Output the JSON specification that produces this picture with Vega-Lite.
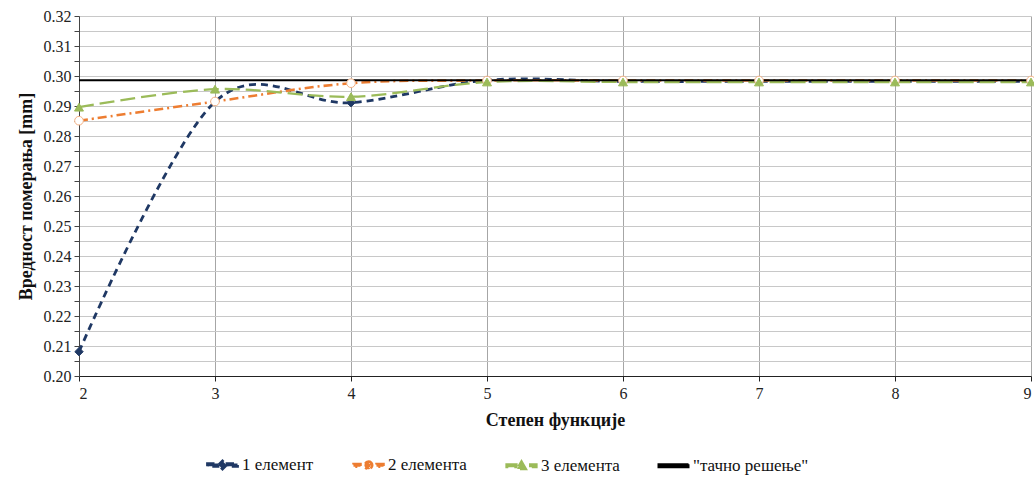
{
  "$schema": "https://vega.github.io/schema/vega-lite/v6.json",
  "autosize": {"type": "none"},
  "width": 952,
  "height": 360,
  "padding": {"left": 79, "top": 16, "right": 3, "bottom": 102},
  "background": "white",
  "config": {
    "view": {"stroke": null},
    "font": "Liberation Serif",
    "text": {"font": "Liberation Serif"}
  },
  "data": {
    "values": [
      {"s": "1 елемент", "x": 2, "y": 0.2081},
      {"s": "1 елемент", "x": 3, "y": 0.2914},
      {"s": "1 елемент", "x": 4, "y": 0.2911},
      {"s": "1 елемент", "x": 5, "y": 0.2986},
      {"s": "1 елемент", "x": 6, "y": 0.2982},
      {"s": "1 елемент", "x": 7, "y": 0.2982},
      {"s": "1 елемент", "x": 8, "y": 0.2982},
      {"s": "1 елемент", "x": 9, "y": 0.2982},
      {"s": "2 елемента", "x": 2, "y": 0.2851},
      {"s": "2 елемента", "x": 3, "y": 0.2915},
      {"s": "2 елемента", "x": 4, "y": 0.2976},
      {"s": "2 елемента", "x": 5, "y": 0.2985},
      {"s": "2 елемента", "x": 6, "y": 0.2985},
      {"s": "2 елемента", "x": 7, "y": 0.2985},
      {"s": "2 елемента", "x": 8, "y": 0.2985},
      {"s": "2 елемента", "x": 9, "y": 0.2985},
      {"s": "3 елемента", "x": 2, "y": 0.2896},
      {"s": "3 елемента", "x": 3, "y": 0.2956},
      {"s": "3 елемента", "x": 4, "y": 0.2931},
      {"s": "3 елемента", "x": 5, "y": 0.2980},
      {"s": "3 елемента", "x": 6, "y": 0.2980},
      {"s": "3 елемента", "x": 7, "y": 0.2980},
      {"s": "3 елемента", "x": 8, "y": 0.2980},
      {"s": "3 елемента", "x": 9, "y": 0.2980},
      {"s": "\"тачно решење\"", "x": 2, "y": 0.2986},
      {"s": "\"тачно решење\"", "x": 9, "y": 0.2986}
    ]
  },
  "encoding": {
    "x": {
      "field": "x", "type": "quantitative",
      "scale": {"domain": [2, 9], "nice": false, "zero": false},
      "axis": {
        "values": [2, 3, 4, 5, 6, 7, 8, 9],
        "format": "d",
        "title": "Степен функције",
        "titleFont": "Liberation Serif", "labelFont": "Liberation Serif",
        "titleFontSize": 18, "titleFontWeight": "bold", "titlePadding": 10, "titleColor": "#111",
        "labelFontSize": 16, "labelPadding": 4, "labelColor": "#222",
        "grid": true, "gridColor": "#a6a6a6", "gridWidth": 1,
        "domainColor": "#222", "domainWidth": 1.2,
        "tickColor": "#222", "tickSize": 5
      }
    },
    "y": {
      "field": "y", "type": "quantitative",
      "scale": {"domain": [0.2, 0.32], "nice": false, "zero": false},
      "axis": {
        "values": [0.2, 0.205, 0.21, 0.215, 0.22, 0.225, 0.23, 0.235, 0.24, 0.245, 0.25, 0.255, 0.26, 0.265, 0.27, 0.275, 0.28, 0.285, 0.29, 0.295, 0.3, 0.305, 0.31, 0.315, 0.32],
        "labelExpr": "round(datum.value*1000) % 10 == 0 ? format(datum.value, '.2f') : ''",
        "title": "Вредност померања [mm]",
        "titleFont": "Liberation Serif", "labelFont": "Liberation Serif",
        "titleFontSize": 18, "titleFontWeight": "bold", "titlePadding": 8, "titleColor": "#111",
        "labelFontSize": 16, "labelPadding": 3, "labelColor": "#222",
        "grid": true, "gridColor": "#c8c8c8", "gridWidth": 1,
        "domainColor": "#444", "domainWidth": 1,
        "tickColor": "#444", "tickSize": 5
      }
    }
  },
  "layer": [
    {
      "mark": {"type": "line", "interpolate": "cardinal", "tension": 0},
      "encoding": {
        "color": {
          "field": "s", "type": "nominal",
          "scale": {
            "domain": ["1 елемент", "2 елемента", "3 елемента", "\"тачно решење\""],
            "range": ["#1f3864", "#ed7d31", "#9bbb59", "#000000"]
          },
          "legend": {
            "orient": "none",
            "legendX": 135,
            "legendY": 440,
            "direction": "horizontal",
            "columns": 4,
            "title": null,
            "labelFont": "Liberation Serif",
            "labelFontSize": 17,
            "labelColor": "#111",
            "symbolSize": 100,
            "symbolType": "circle",
            "labelOffset": 11,
            "columnPadding": 34,
            "encode": {
              "symbols": {
                "update": {
                  "shape": {"signal": "datum.value == '1 елемент' ? 'M-3,-0.28L-0.9,-0.28L-0.9,0.28L-3,0.28Z M0.9,-0.28L3,-0.28L3,0.28L0.9,0.28Z M-0.8,0L0,-0.8L0.8,0L0,0.8Z' : datum.value == '2 елемента' ? 'M-3,-0.28L-1.6,-0.28L-1.6,0.28L-3,0.28Z M1.6,-0.28L3,-0.28L3,0.28L1.6,0.28Z M0,-0.75A0.75,0.75 0 1,1 0,0.75A0.75,0.75 0 1,1 0,-0.75Z M0,-0.55A0.55,0.55 0 1,0 0,0.55A0.55,0.55 0 1,0 0,-0.55Z M0,-0.18A0.18,0.18 0 1,1 0,0.18A0.18,0.18 0 1,1 0,-0.18Z' : datum.value == '3 елемента' ? 'M-3,-0.28L-1,-0.28L-1,0.28L-3,0.28Z M1.5,-0.28L3,-0.28L3,0.28L1.5,0.28Z M0,-0.9L0.9,0.65L-0.9,0.65Z' : 'M-3,-0.28L3,-0.28L3,0.28L-3,0.28Z'"},
                  "fill": {"signal": "datum.value == '1 елемент' ? '#1f3864' : datum.value == '2 елемента' ? '#ed7d31' : datum.value == '3 елемента' ? '#9bbb59' : '#000000'"},
                  "stroke": {"value": "transparent"},
                  "strokeWidth": {"value": 0},
                  "opacity": {"value": 1}
                }
              }
            }
          }
        },
        "strokeDash": {
          "field": "s", "type": "nominal",
          "scale": {
            "domain": ["1 елемент", "2 елемента", "3 елемента", "\"тачно решење\""],
            "range": [[7, 5], [9, 4, 2, 4], [15, 6], [1, 0]]
          },
          "legend": null
        },
        "strokeWidth": {
          "field": "s", "type": "nominal",
          "scale": {
            "domain": ["1 елемент", "2 елемента", "3 елемента", "\"тачно решење\""],
            "range": [2.8, 2, 3, 2.2]
          },
          "legend": null
        }
      }
    },
    {
      "transform": [{"filter": "datum.s != '\"тачно решење\"'"}],
      "mark": {"type": "point", "filled": true, "opacity": 1},
      "encoding": {
        "shape": {
          "field": "s", "type": "nominal",
          "scale": {
            "domain": ["1 елемент", "2 елемента", "3 елемента"],
            "range": ["diamond", "circle", "triangle-up"]
          },
          "legend": null
        },
        "size": {
          "field": "s", "type": "nominal",
          "scale": {
            "domain": ["1 елемент", "2 елемента", "3 елемента"],
            "range": [70, 80, 120]
          },
          "legend": null
        },
        "fill": {
          "field": "s", "type": "nominal",
          "scale": {
            "domain": ["1 елемент", "2 елемента", "3 елемента"],
            "range": ["#1f3864", "#ffffff", "#9bbb59"]
          },
          "legend": null
        },
        "stroke": {
          "field": "s", "type": "nominal",
          "scale": {
            "domain": ["1 елемент", "2 елемента", "3 елемента"],
            "range": ["#1f3864", "#f4b183", "#9bbb59"]
          },
          "legend": null
        },
        "strokeWidth": {"value": 1}
      }
    }
  ]
}
